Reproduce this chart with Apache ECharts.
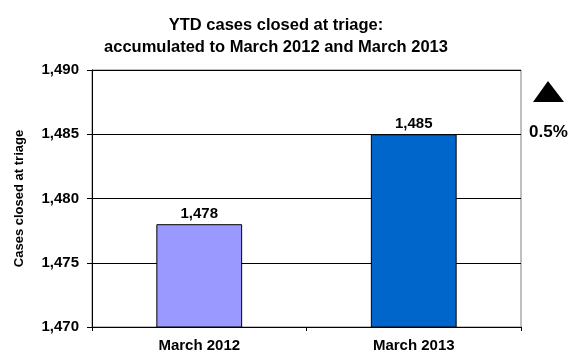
<!DOCTYPE html>
<html>
<head>
<meta charset="utf-8">
<script src="https://cdn.jsdelivr.net/npm/echarts@6/dist/echarts.min.js"></script>
<style>
  html, body { margin: 0; padding: 0; background: #fff; }
  #chart { width: 574px; height: 360px; }
</style>
</head>
<body>
<div id="chart"></div>
<script>
// Year-to-date cases closed at triage
const categories = ['March 2012', 'March 2013'];
const casesClosed = [1478, 1485];
const barColors = ['#9999FF', '#0066CC'];
const yMin = 1470, yMax = 1490, yStep = 5;

const fmt = v => v.toLocaleString('en-US');
const change = (casesClosed[1] - casesClosed[0]) / casesClosed[0] * 100;
const changeText = change.toFixed(1) + '%';

const chart = echarts.init(document.getElementById('chart'), null, { renderer: 'canvas' });
const font = 'Arial, "Liberation Sans", sans-serif';

chart.setOption({
  animation: false,
  title: {
    text: 'YTD cases closed at triage:\naccumulated to March 2012 and March 2013',
    left: 271, top: 10, textAlign: 'center',
    textStyle: { fontFamily: font, fontSize: 16.5, fontWeight: 'bold', color: '#000', lineHeight: 21.5 }
  },
  grid: { left: 92, right: 53, top: 70, bottom: 33, show: true, borderColor: '#808080', borderWidth: 1 },
  xAxis: {
    type: 'category',
    data: categories,
    axisLine: { lineStyle: { color: '#000', width: 1 } },
    axisTick: { show: true, alignWithLabel: false, length: 4, lineStyle: { color: '#000' } },
    axisLabel: { fontFamily: font, fontSize: 15, fontWeight: 'bold', color: '#000', margin: 11 }
  },
  yAxis: {
    type: 'value',
    min: yMin, max: yMax, interval: yStep,
    name: 'Cases closed at triage',
    nameLocation: 'middle', nameGap: 66, nameRotate: 90,
    nameTextStyle: { fontFamily: font, fontSize: 13, fontWeight: 'bold', color: '#000' },
    axisLine: { show: true, lineStyle: { color: '#000', width: 1 } },
    axisTick: { show: true, length: 5, lineStyle: { color: '#000' } },
    axisLabel: { fontFamily: font, fontSize: 15, fontWeight: 'bold', color: '#000', margin: 13, formatter: v => fmt(v) },
    splitLine: { show: true, lineStyle: { color: '#000', width: 1 } }
  },
  series: [{
    type: 'bar',
    barWidth: '40%',
    data: casesClosed.map((v, i) => ({
      value: v,
      itemStyle: { color: barColors[i], borderColor: '#000', borderWidth: 1 }
    })),
    label: {
      show: true, position: 'top', distance: 3,
      fontFamily: font, fontSize: 15, fontWeight: 'bold', color: '#000',
      formatter: p => fmt(p.value)
    }
  }],
  graphic: [
    {
      type: 'polygon',
      shape: { points: [[548, 81], [564, 102], [533, 102]] },
      style: { fill: '#000' }
    },
    {
      type: 'text',
      left: 529, top: 124,
      style: { text: changeText, font: 'bold 17px ' + font, fill: '#000' }
    }
  ]
});
</script>
</body>
</html>
